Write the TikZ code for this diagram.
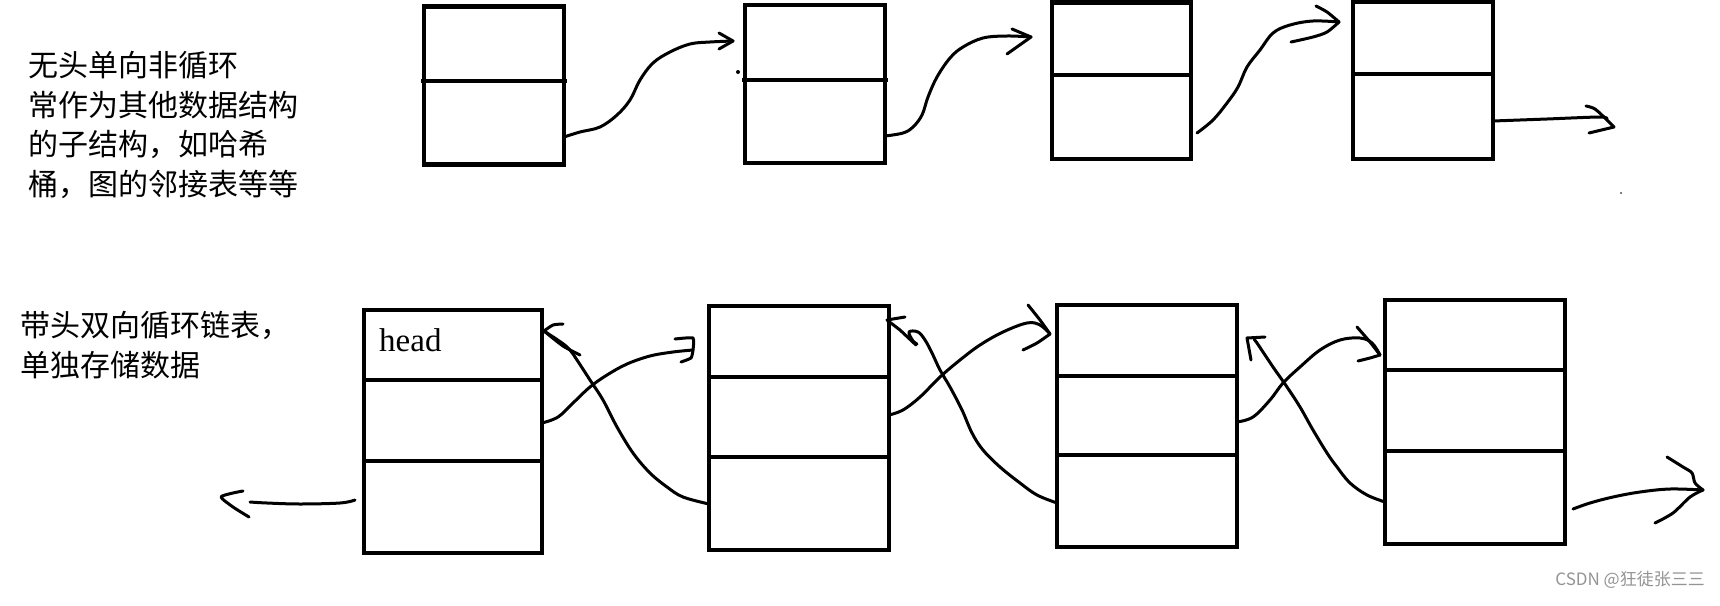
\documentclass[tikz,border=0pt]{standalone}
\usepackage{fontspec}
\setmainfont{Liberation Serif}
\newfontfamily\cjk{Noto Sans CJK SC}
\begin{document}
\begin{tikzpicture}[x=1pt,y=-1pt,
  cell/.style={draw=black, line width=4.5pt, rectangle, inner sep=0pt, outer sep=0pt, anchor=north west},
  divline/.style={line width=4.5pt},
  conn/.style={line width=3pt, line cap=round, line join=round},
  txt/.style={anchor=base west, inner sep=0pt, font=\cjk\fontsize{30}{40}\selectfont},
  wmark/.style={anchor=base east, inner sep=0pt, text=black!42, font=\cjk\fontsize{17}{17}\selectfont}
]
\useasboundingbox[fill=white] (0,0) rectangle (1720,605);

% ---------- texts ----------
\node[txt] (l1) at (28,76) {无头单向非循环};
\node[txt] (l2) at (28,116) {常作为其他数据结构};
\node[txt] (l3) at (28,155.5) {的子结构，如哈希};
\node[txt] (l4) at (28,195) {桶，图的邻接表等等};
\node[txt] (m1) at (20,336) {带头双向循环链表，};
\node[txt] (m2) at (20,376) {单独存储数据};
\node[wmark] (wm) at (1705,585) {CSDN @狂徒张三三};

% ---------- top row boxes ----------
\node[cell, minimum width=140pt, minimum height=158pt] (t1) at (424,6.5) {};
\node[cell, minimum width=140pt, minimum height=158pt] (t2) at (745,5) {};
\node[cell, minimum width=139pt, minimum height=156.5pt] (t3) at (1052,2.5) {};
\node[cell, minimum width=140pt, minimum height=157pt] (t4) at (1353,1.8) {};
\draw[divline] ([xshift=-3pt]t1.west |- 0,81) -- ([xshift=3pt]t1.east |- 0,81);
\draw[divline] ([xshift=-3pt]t2.west |- 0,80) -- ([xshift=3pt]t2.east |- 0,80);
\draw[divline] ([xshift=-2pt]t3.west |- 0,75) -- ([xshift=2pt]t3.east |- 0,75);
\draw[divline] ([xshift=-2pt]t4.west |- 0,74) -- ([xshift=2pt]t4.east |- 0,74);

% ---------- bottom row boxes ----------
\node[cell, minimum width=178pt, minimum height=243pt] (h) at (364,310) {};
\node[cell, minimum width=180pt, minimum height=244pt] (b2) at (709,306) {};
\node[cell, minimum width=180pt, minimum height=242pt] (b3) at (1057,305) {};
\node[cell, minimum width=180pt, minimum height=244pt] (b4) at (1385,300) {};
\draw[divline] ([xshift=-2pt]h.west |- 0,380) -- ([xshift=2pt]h.east |- 0,380);
\draw[divline] (h.west |- 0,461) -- (h.east |- 0,461);
\draw[divline] ([xshift=-2pt]b2.west |- 0,377) -- ([xshift=2pt]b2.east |- 0,377);
\draw[divline] (b2.west |- 0,457) -- (b2.east |- 0,457);
\draw[divline] ([xshift=-2pt]b3.west |- 0,376) -- ([xshift=2pt]b3.east |- 0,376);
\draw[divline] (b3.west |- 0,455) -- (b3.east |- 0,455);
\draw[divline] ([xshift=-2pt]b4.west |- 0,370) -- ([xshift=2pt]b4.east |- 0,370);
\draw[divline] (b4.west |- 0,451) -- (b4.east |- 0,451);

\node[anchor=base west, inner sep=0pt, font=\fontsize{33}{33}\selectfont] (hd) at (379,351) {head};

% ---------- top row connectors ----------
\coordinate (s1) at (t1.east |- 0,137);
\coordinate (e1) at (733,41);
\draw[conn] plot[smooth, tension=0.6] coordinates {(s1) (580,132) (600,127) (617,115) (630,100) (640,80) (653,63) (670,52) (690,44) (710,42) (e1)};
\draw[conn] (719,33) -- (e1) -- (719,49);

\coordinate (s2) at (t2.east |- 0,136);
\coordinate (e2) at (1031,37);
\draw[conn] plot[smooth, tension=0.6] coordinates {(s2) (903,133) (913,127) (922,115) (928,97) (937,77) (950,58) (963,47) (983,38) (1007,36) (e2)};
\draw[conn] (1012,29) -- (e2) -- (1007,54);

\coordinate (s3) at (1197,133);
\coordinate (e3) at (1339,22);
\draw[conn] plot[smooth, tension=0.6] coordinates {(s3) (1213,120) (1227,103) (1238,87) (1247,67) (1260,50) (1273,33) (1290,25) (1313,21) (e3)};
\draw[conn] plot[smooth, tension=0.5] coordinates {(1316,6) (1327,12) (e3)};
\draw[conn] plot[smooth, tension=0.5] coordinates {(e3) (1327,32) (1313,37) (1291,42)};

\coordinate (s4) at (t4.east |- 0,121);
\coordinate (e4) at (1614,127);
\draw[conn] plot[smooth, tension=0.5] coordinates {(s4) (1547,119) (1600,117) (1607,119)};
\draw[conn] plot[smooth, tension=0.5] coordinates {(1586,106) (1595,109) (1607,120) (e4)};
\draw[conn] (e4) -- (1589,133);

\fill (738,72) circle (2pt);
\fill (1621,193) circle (0.8pt);

% ---------- bottom row connectors ----------
% head prev (left)
\coordinate (hs) at (355,500);
\coordinate (he) at (221,497);
\draw[conn] plot[smooth, tension=0.6] coordinates {(hs) (340,503) (300,504) (267,503) (250,502)};
\draw[conn] plot[smooth, tension=0.4] coordinates {(243,491) (233,493) (he) (233,507) (249,517)};

% head next -> b2
\coordinate (n1s) at (h.east |- 0,423);
\coordinate (n1e) at (693,350);
\draw[conn] plot[smooth, tension=0.6] coordinates {(n1s) (558,417) (573,403) (590,387) (607,375) (627,364) (650,356) (673,352) (n1e)};
\draw[conn] plot[smooth, tension=0.3] coordinates {(675,339) (693,338) (n1e) (691,358) (681,362)};

% b2 prev -> head
\coordinate (p1s) at (b2.west |- 0,504);
\coordinate (p1e) at (544,331);
\draw[conn] plot[smooth, tension=0.6] coordinates {(p1s) (683,497) (667,487) (650,473) (633,453) (617,427) (603,400) (590,380) (577,360) (570,350) (562,343) (p1e)};
\draw[conn] plot[smooth, tension=0.4] coordinates {(563,324) (553,325) (p1e)};
\draw[conn] plot[smooth, tension=0.4] coordinates {(p1e) (563,346) (580,355)};

% b2 next -> b3
\coordinate (n2s) at (b2.east |- 0,415);
\coordinate (n2e) at (1050,334);
\draw[conn] plot[smooth, tension=0.6] coordinates {(n2s) (903,410) (920,397) (940,377) (960,360) (980,345) (1003,332) (1027,323) (1040,325) (n2e)};
\draw[conn] plot[smooth, tension=0.4] coordinates {(1028,305) (1040,320) (n2e)};
\draw[conn] plot[smooth, tension=0.4] coordinates {(n2e) (1037,343) (1023,350)};

% b3 prev -> b2
\coordinate (p2s) at (b3.west |- 0,503);
\coordinate (p2e) at (887,320);
\draw[conn] plot[smooth, tension=0.6] coordinates {(p2s) (1037,495) (1020,483) (1000,467) (983,450) (972,433) (962,410) (950,387) (940,370) (932,353) (925,340) (918,332) (909,332) (913,341) (917,344)};
\draw[conn] (905,317) -- (p2e) -- (900,330) -- (916,345);

% b3 next -> b4
\coordinate (n3s) at (b3.east |- 0,422);
\coordinate (n3e) at (1380,355);
\draw[conn] plot[smooth, tension=0.6] coordinates {(n3s) (1253,417) (1270,400) (1283,383) (1300,367) (1320,350) (1340,340) (1360,338) (1372,343) (n3e)};
\draw[conn] plot[smooth, tension=0.4] coordinates {(1357,327) (1370,342) (n3e)};
\draw[conn] plot[smooth, tension=0.4] coordinates {(n3e) (1370,358) (1358,361)};

% b4 prev -> b3
\coordinate (p3s) at (b4.west |- 0,502);
\coordinate (p3e) at (1247,338);
\draw[conn] plot[smooth, tension=0.6] coordinates {(p3s) (1367,495) (1350,483) (1337,467) (1327,453) (1313,430) (1300,407) (1287,387) (1273,367) (1263,352) (1257,343) (1254,339)};
\draw[conn] (1251,360) -- (p3e) -- (1265,337);

% b4 next (right)
\coordinate (n4s) at (1573,509);
\coordinate (n4e) at (1703,490);
\draw[conn] plot[smooth, tension=0.6] coordinates {(n4s) (1590,503) (1613,497) (1640,492) (1670,489) (n4e)};
\draw[conn] plot[smooth, tension=0.5] coordinates {(1667,457) (1683,467) (1692,473) (1695,483) (n4e)};
\draw[conn] plot[smooth, tension=0.5] coordinates {(n4e) (1690,497) (1673,513) (1655,523)};
\end{tikzpicture}
\end{document}
